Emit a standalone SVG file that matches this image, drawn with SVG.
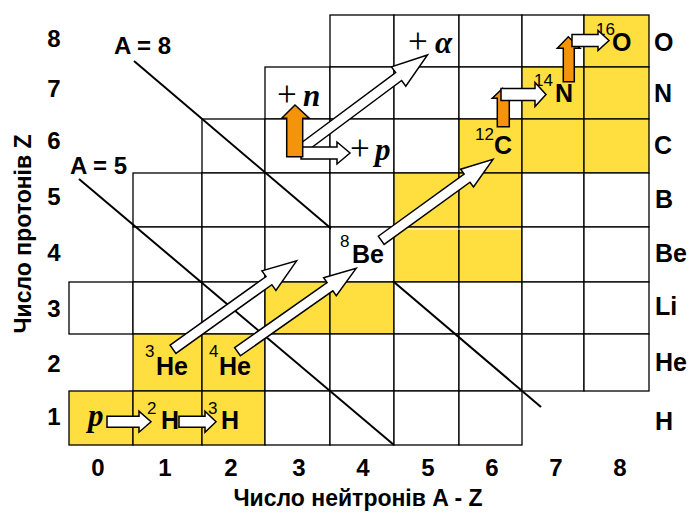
<svg xmlns="http://www.w3.org/2000/svg" width="690" height="514" viewBox="0 0 690 514">
<style>
.c{fill:#fff;stroke:#000;stroke-width:1.3}
.y{fill:#FFDF3F;stroke:#000;stroke-width:1.3}
.t{font-family:"Liberation Sans",Arial,sans-serif;font-weight:bold;fill:#000}
.ax{font-size:24px}
.el{font-size:25px}
.sup{font-family:"Liberation Sans",Arial,sans-serif;font-size:17px;fill:#000}
.dl{stroke:#000;stroke-width:2;fill:none}
.wa{fill:#fff;stroke:#000;stroke-width:1.5;stroke-linejoin:miter}
.oa{fill:#F5940C;stroke:#000;stroke-width:1.5}
.sr{font-family:"Liberation Serif","Times New Roman",serif;font-size:31px;fill:#000}
.pl{font-size:35px}
.bi{font-weight:bold;font-style:italic}
</style>
<rect width="690" height="514" fill="#fff"/>
<g id="grid">
<rect class="c" x="330" y="15" width="64" height="52"/>
<rect class="c" x="394" y="15" width="65" height="52"/>
<rect class="c" x="459" y="15" width="63" height="52"/>
<rect class="c" x="522" y="15" width="62" height="52"/>
<rect class="y" x="584" y="15" width="65" height="52"/>
<rect class="c" x="265" y="67" width="65" height="52"/>
<rect class="c" x="330" y="67" width="64" height="52"/>
<rect class="c" x="394" y="67" width="65" height="52"/>
<rect class="c" x="459" y="67" width="63" height="52"/>
<rect class="y" x="522" y="67" width="62" height="52"/>
<rect class="y" x="584" y="67" width="65" height="52"/>
<rect class="c" x="202" y="119" width="63" height="54"/>
<rect class="c" x="265" y="119" width="65" height="54"/>
<rect class="c" x="330" y="119" width="64" height="54"/>
<rect class="c" x="394" y="119" width="65" height="54"/>
<rect class="y" x="459" y="119" width="63" height="54"/>
<rect class="y" x="522" y="119" width="62" height="54"/>
<rect class="y" x="584" y="119" width="65" height="54"/>
<rect class="c" x="133" y="173" width="69" height="54"/>
<rect class="c" x="202" y="173" width="63" height="54"/>
<rect class="c" x="265" y="173" width="65" height="54"/>
<rect class="c" x="330" y="173" width="64" height="54"/>
<rect class="y" x="394" y="173" width="65" height="54"/>
<rect class="y" x="459" y="173" width="63" height="54"/>
<rect class="c" x="522" y="173" width="62" height="54"/>
<rect class="c" x="584" y="173" width="65" height="54"/>
<rect class="c" x="133" y="227" width="69" height="55"/>
<rect class="c" x="202" y="227" width="63" height="55"/>
<rect class="c" x="265" y="227" width="65" height="55"/>
<rect class="c" x="330" y="227" width="64" height="55"/>
<rect class="y" x="394" y="227" width="65" height="55"/>
<rect class="y" x="459" y="227" width="63" height="55"/>
<rect class="c" x="522" y="227" width="62" height="55"/>
<rect class="c" x="584" y="227" width="65" height="55"/>
<rect class="c" x="69" y="282" width="64" height="52"/>
<rect class="c" x="133" y="282" width="69" height="52"/>
<rect class="c" x="202" y="282" width="63" height="52"/>
<rect class="y" x="265" y="282" width="65" height="52"/>
<rect class="y" x="330" y="282" width="64" height="52"/>
<rect class="c" x="394" y="282" width="65" height="52"/>
<rect class="c" x="459" y="282" width="63" height="52"/>
<rect class="c" x="522" y="282" width="62" height="52"/>
<rect class="c" x="584" y="282" width="65" height="52"/>
<rect class="y" x="133" y="334" width="69" height="57"/>
<rect class="y" x="202" y="334" width="63" height="57"/>
<rect class="c" x="265" y="334" width="65" height="57"/>
<rect class="c" x="330" y="334" width="64" height="57"/>
<rect class="c" x="394" y="334" width="65" height="57"/>
<rect class="c" x="459" y="334" width="63" height="57"/>
<rect class="c" x="522" y="334" width="62" height="57"/>
<rect class="c" x="584" y="334" width="65" height="57"/>
<rect class="y" x="69" y="391" width="64" height="54"/>
<rect class="y" x="133" y="391" width="69" height="54"/>
<rect class="y" x="202" y="391" width="63" height="54"/>
<rect class="c" x="265" y="391" width="65" height="54"/>
<rect class="c" x="330" y="391" width="64" height="54"/>
<rect class="c" x="394" y="391" width="65" height="54"/>
<rect class="c" x="459" y="391" width="63" height="54"/>
<line x1="395" y1="229" x2="521" y2="229" stroke="#fff" stroke-width="1.2"/>
</g>
<g id="isobars">
<line class="dl" x1="134" y1="61" x2="541" y2="407"/>
<line class="dl" x1="79" y1="179" x2="394" y2="445"/>
<text class="t" x="114" y="54" font-size="24">A = 8</text>
<text class="t" x="70" y="174" font-size="24">A = 5</text>
</g>
<g id="axis-z" class="t ax" text-anchor="middle">
<text x="54" y="47">8</text>
<text x="54" y="97">7</text>
<text x="54" y="149">6</text>
<text x="54" y="205">5</text>
<text x="54" y="261">4</text>
<text x="54" y="317">3</text>
<text x="54" y="372">2</text>
<text x="54" y="425">1</text>
</g>
<g id="axis-n" class="t ax" text-anchor="middle">
<text x="98" y="476">0</text>
<text x="165" y="476">1</text>
<text x="231" y="476">2</text>
<text x="299" y="476">3</text>
<text x="363" y="476">4</text>
<text x="428" y="476">5</text>
<text x="492" y="476">6</text>
<text x="556" y="476">7</text>
<text x="620" y="476">8</text>
</g>
<text class="t" x="358" y="506" font-size="23" text-anchor="middle">Число нейтронів A - Z</text>
<text class="t" transform="translate(31,234) rotate(-90)" font-size="23" text-anchor="middle">Число протонів Z</text>
<g id="elements" class="t el">
<text x="654" y="51">O</text>
<text x="654" y="102">N</text>
<text x="654" y="154">C</text>
<text x="655" y="208">B</text>
<text x="655" y="262">Be</text>
<text x="655" y="315">Li</text>
<text x="655" y="371">He</text>
<text x="655" y="430">H</text>
</g>
<g id="n-p"><text class="sr bi" x="88" y="426">p</text></g>
<g id="n-2H"><text class="sup" x="147" y="414">2</text><text class="t el" x="161" y="429">H</text></g>
<g id="n-3H"><text class="sup" x="208" y="414">3</text><text class="t el" x="221" y="429">H</text></g>
<g id="n-3He"><text class="sup" x="145" y="357">3</text><text class="t el" x="156" y="375">He</text></g>
<g id="n-4He"><text class="sup" x="209" y="357">4</text><text class="t el" x="219" y="375">He</text></g>
<g id="n-8Be"><rect x="331" y="228" width="62" height="53" fill="#fff"/><text class="sup" x="340" y="247">8</text><text class="t el" x="352" y="263">Be</text></g>
<g id="n-12C"><text class="sup" x="475" y="140">12</text><text class="t el" x="494" y="154">C</text></g>
<g id="n-14N"><text class="sup" x="534" y="86">14</text><text class="t el" x="555" y="102">N</text></g>
<g id="n-16O"><text class="sup" x="596" y="35">16</text><text class="t el" x="612" y="51">O</text></g>
<g id="n-plus-n"><text class="sr" y="106"><tspan class="pl" x="277">+</tspan><tspan class="bi" x="303">n</tspan></text></g>
<g id="n-plus-p"><text class="sr" y="160"><tspan class="pl" x="350">+</tspan><tspan class="bi" x="375">p</tspan></text></g>
<g id="n-plus-a"><text class="sr" y="53"><tspan class="pl" x="408">+</tspan><tspan class="bi" x="435">α</tspan></text></g>
<g id="connectors">
<polygon class="wa" transform="translate(173,349.3) rotate(-35.6)" points="0,-5 118,-5 118,-12 152,0 118,12 118,5 0,5"/>
<polygon class="wa" transform="translate(237.5,351.7) rotate(-35.1)" points="0,-5 113,-5 113,-11 145,0 113,11 113,5 0,5"/>
<polygon class="wa" transform="translate(381.2,240.3) rotate(-35.9)" points="0,-5 106,-5 106,-11 138,0 106,11 106,5 0,5"/>
<polygon class="wa" transform="translate(300,150) rotate(-36.7)" points="0,-5 123,-5 123,-12 159,0 123,12 123,5 0,5"/>
<polygon class="wa" points="107,416.2 139,416.2 139,411.2 151,421.7 139,432.2 139,427.2 107,427.2"/>
<polygon class="wa" points="179,416.2 205,416.2 205,411.2 216,421.7 205,432.2 205,427.2 179,427.2"/>
<polygon class="wa" points="301,147 337,147 337,142 350,153 337,164 337,159 301,159"/>
<polygon class="oa" points="286.7,156.7 286.7,118.3 281.7,118.3 295,105 309.3,118.3 302.7,118.3 302.7,156.7"/>
<polygon class="oa" points="497.3,126.7 497.3,98.3 492.3,98.3 502.7,88.3 514,98.3 509.3,98.3 509.3,126.7"/>
<polygon class="oa" points="563.3,81.7 563.3,48.3 557.3,48.3 568.3,36.7 580,48.3 574.3,48.3 574.3,81.7"/>
<polygon class="wa" points="501,88.5 535,88.5 535,82.5 546,94.5 535,106.5 535,100.5 501,100.5"/>
<polygon class="wa" points="572,34.5 598,34.5 598,30.5 609,40.5 598,50.5 598,46.5 572,46.5"/>
</g>
</svg>
